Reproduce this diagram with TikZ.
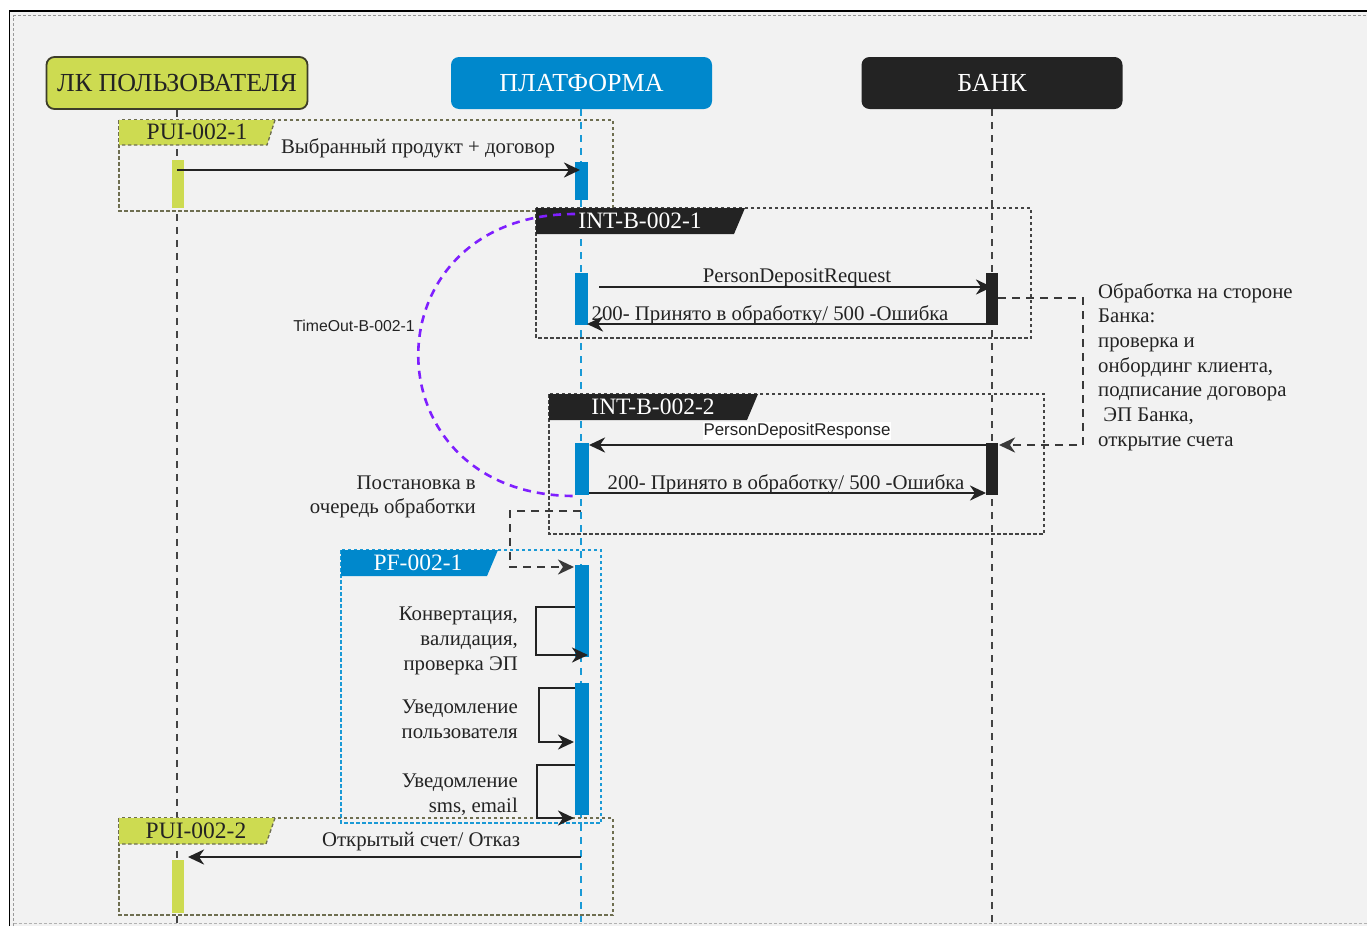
\documentclass[tikz,border=0pt]{standalone}
\usepackage{fontspec}
\setmainfont{Liberation Serif}
\newfontfamily\arialf{Liberation Sans}
\usetikzlibrary{arrows.meta}
\definecolor{bg}{HTML}{F2F2F2}
\definecolor{lkfill}{HTML}{CDDB51}
\definecolor{lkborder}{HTML}{3D3D29}
\definecolor{pblue}{HTML}{0088CC}
\definecolor{lblue}{HTML}{1A9AD6}
\definecolor{dark}{HTML}{232323}
\definecolor{olive}{HTML}{6E6E50}
\definecolor{purp}{HTML}{7F1FFF}
\tikzset{
  hdr/.style={rounded corners=8pt, minimum width=261pt, minimum height=52pt, inner sep=0pt, font=\fontsize{26}{30}\selectfont},
  life/.style={line width=2.6pt, dash pattern=on 7pt off 6pt},
  grp/.style={line width=1.3pt, dash pattern=on 3.5pt off 2.5pt},
  barnode/.style={inner sep=0pt, minimum width=13pt, draw=none},
  msg/.style={line width=2.7pt, draw=dark, -{Stealth[length=16pt,width=15pt,inset=5pt]}},
  conn/.style={line width=2.8pt, draw=dark!90, dash pattern=on 8pt off 6pt, -{Stealth[length=16pt,width=15pt,inset=5pt]}},
  lbl/.style={inner sep=0pt, font=\fontsize{20.8}{24.7}\selectfont, text=dark},
  tablbl/.style={inner sep=0pt, font=\fontsize{23.5}{26}\selectfont},
  sidetxt/.style={inner sep=0pt, font=\fontsize{20.8}{24.7}\selectfont, text=dark, align=right},
}
\begin{document}
\begin{tikzpicture}[x=1pt,y=-1pt]
\useasboundingbox (0,0) rectangle (1367,926);
\fill[white] (0,0) rectangle (1367,926);
\fill[bg] (10,12) rectangle (1367,926);
\draw[black, line width=1.6pt] (9.5,926) -- (9.5,11) -- (1367,11);
\draw[gray!80, line width=0.8pt, dash pattern=on 3pt off 2pt] (13.5,926) -- (13.5,15.5) -- (1367,15.5);
\draw[gray!60, line width=0.8pt, dash pattern=on 3pt off 2pt] (13.5,923.5) -- (1367,923.5);

% headers
\node[hdr, fill=lkfill, draw=lkborder, line width=1.8pt, text=dark] (lk) at (177,83) {ЛК ПОЛЬЗОВАТЕЛЯ};
\node[hdr, fill=pblue, text=white] (pl) at (581.5,83) {ПЛАТФОРМА};
\node[hdr, fill=dark, text=white] (bk) at (992,83) {БАНК};

% lifeline ends
\coordinate (lkend) at (177,926);
\coordinate (plend) at (581,926);
\coordinate (bkend) at (992,926);
\draw[life, draw=dark!85] (lk.south) -- (lkend);
\draw[life, draw=lblue] (pl.south -| plend) -- (plend);
\draw[life, draw=dark!85] (bk.south) -- (bkend);

% group frames
\draw[grp, draw=olive] (119,120) rectangle (613,211);
\draw[grp, draw=dark!85] (536,208) rectangle (1031,338);
\draw[grp, draw=dark!85] (549,394) rectangle (1044,534);
\draw[grp, draw=lblue] (341,550) rectangle (601,823);
\draw[grp, draw=olive] (119,818) rectangle (613,915);

% tabs
\fill[lkfill] (119,120) -- (275,120) -- (267,145) -- (119,145) -- cycle;
\draw[grp, draw=olive] (275,120) -- (267,145) -- (119,145);
\node[tablbl, text=dark] (t1) at (197,132) {PUI-002-1};
\fill[dark] (536,208) -- (745,208) -- (734,234) -- (536,234) -- cycle;
\node[tablbl, text=white] (t2) at (640,221) {INT-B-002-1};
\fill[dark] (549,394) -- (758,394) -- (747,420) -- (549,420) -- cycle;
\node[tablbl, text=white] (t3) at (653,407) {INT-B-002-2};
\fill[pblue] (341,550) -- (498,550) -- (487,576) -- (341,576) -- cycle;
\node[tablbl, text=white] (t4) at (418,563) {PF-002-1};
\fill[lkfill] (119,818) -- (275,818) -- (266,844) -- (119,844) -- cycle;
\draw[grp, draw=olive] (275,818) -- (266,844) -- (119,844);
\node[tablbl, text=dark] (t5) at (196,831) {PUI-002-2};

% activation bars
\node[barnode, fill=lkfill, minimum width=12pt, minimum height=48pt] (u1) at (178,184) {};
\node[barnode, fill=pblue, minimum height=38pt] (p1) at (581.5,181) {};
\node[barnode, fill=pblue, minimum height=52pt] (p2) at (581.5,299) {};
\node[barnode, fill=dark, minimum width=12pt, minimum height=52pt] (b1) at (992,299) {};
\node[barnode, fill=pblue, minimum width=14pt, minimum height=52pt] (p3) at (582,469) {};
\node[barnode, fill=dark, minimum width=12pt, minimum height=52pt] (b2) at (992,469) {};
\node[barnode, fill=pblue, minimum width=14pt, minimum height=92pt] (p4) at (582,611) {};
\node[barnode, fill=pblue, minimum width=14pt, minimum height=132pt] (p5) at (582,749) {};
\node[barnode, fill=lkfill, minimum width=12pt, minimum height=53pt] (u2) at (178,886.5) {};

% timeout arc
\coordinate (arcS) at (575,214);
\coordinate (arcE) at (575,496);
\draw[purp, line width=2.6pt, dash pattern=on 8pt off 6pt] (arcS) .. controls (366,214) and (366,496) .. (arcE);
\node[inner sep=0pt, font=\arialf\fontsize{15.8}{18}\selectfont, text=dark] (to) at (354,326) {TimeOut-B-002-1};

% messages
\coordinate (m1s) at (177,170); \coordinate (m1e) at (580,170);
\draw[msg] (m1s) -- (m1e);
\node[lbl] (m1l) at (418,148) {Выбранный продукт + договор};

\coordinate (m2s) at (599,287); \coordinate (m2e) at (992,287);
\draw[msg] (m2s) -- (m2e);
\node[lbl] (m2l) at (797,278) {PersonDepositRequest};

\coordinate (m3s) at (992,324); \coordinate (m3e) at (587,324);
\draw[msg] (m3s) -- (m3e);
\node[lbl] (m3l) at (770,315) {200- Принято в обработку/ 500 -Ошибка};

\coordinate (m4s) at (986,445); \coordinate (m4e) at (589,445);
\draw[msg] (m4s) -- (m4e);
\node[inner sep=1pt, fill=white, font=\arialf\fontsize{16.9}{20}\selectfont, text=dark] (m4l) at (797,431) {PersonDepositResponse};

\coordinate (m5s) at (589,493); \coordinate (m5e) at (986,493);
\draw[msg] (m5s) -- (m5e);
\node[lbl] (m5l) at (786,484) {200- Принято в обработку/ 500 -Ошибка};

\coordinate (m6s) at (581,857); \coordinate (m6e) at (188,857);
\draw[msg] (m6s) -- (m6e);
\node[lbl] (m6l) at (421,842) {Открытый счет/ Отказ};

% bank processing connector
\coordinate (c1a) at (998,298); \coordinate (c1b) at (1083,298);
\coordinate (c1c) at (1083,445); \coordinate (c1d) at (999,445);
\draw[conn] (c1a) -- (c1b) -- (c1c) -- (c1d);
\node[inner sep=0pt, anchor=north west, align=left, font=\fontsize{20.8}{24.7}\selectfont, text=dark] (bt) at (1098,283) {Обработка на стороне\\Банка:\\проверка и\\онбординг клиента,\\подписание договора\\\ ЭП Банка,\\открытие счета};

% queue connector
\coordinate (q1) at (581,511); \coordinate (q2) at (510,511);
\coordinate (q3) at (510,567); \coordinate (q4) at (574,567);
\draw[conn] (q1) -- (q2) -- (q3) -- (q4);
\node[sidetxt, anchor=east] (qt) at (476,497) {Постановка в\\очередь обработки};

% self loops
\coordinate (s1a) at (575,607); \coordinate (s1b) at (536,607);
\coordinate (s1c) at (536,655); \coordinate (s1d) at (588,655);
\draw[msg] (s1a) -- (s1b) -- (s1c) -- (s1d);
\node[sidetxt, anchor=east] (s1t) at (518,641) {Конвертация,\\валидация,\\проверка ЭП};

\coordinate (s2a) at (575,688); \coordinate (s2b) at (539,688);
\coordinate (s2c) at (539,742); \coordinate (s2d) at (574,742);
\draw[msg] (s2a) -- (s2b) -- (s2c) -- (s2d);
\node[sidetxt, anchor=east] (s2t) at (518,719) {Уведомление\\пользователя};

\coordinate (s3a) at (575,765); \coordinate (s3b) at (537,765);
\coordinate (s3c) at (537,818); \coordinate (s3d) at (574,818);
\draw[msg] (s3a) -- (s3b) -- (s3c) -- (s3d);
\node[sidetxt, anchor=east] (s3t) at (518,795) {Уведомление\\sms, email};
\end{tikzpicture}
\end{document}
